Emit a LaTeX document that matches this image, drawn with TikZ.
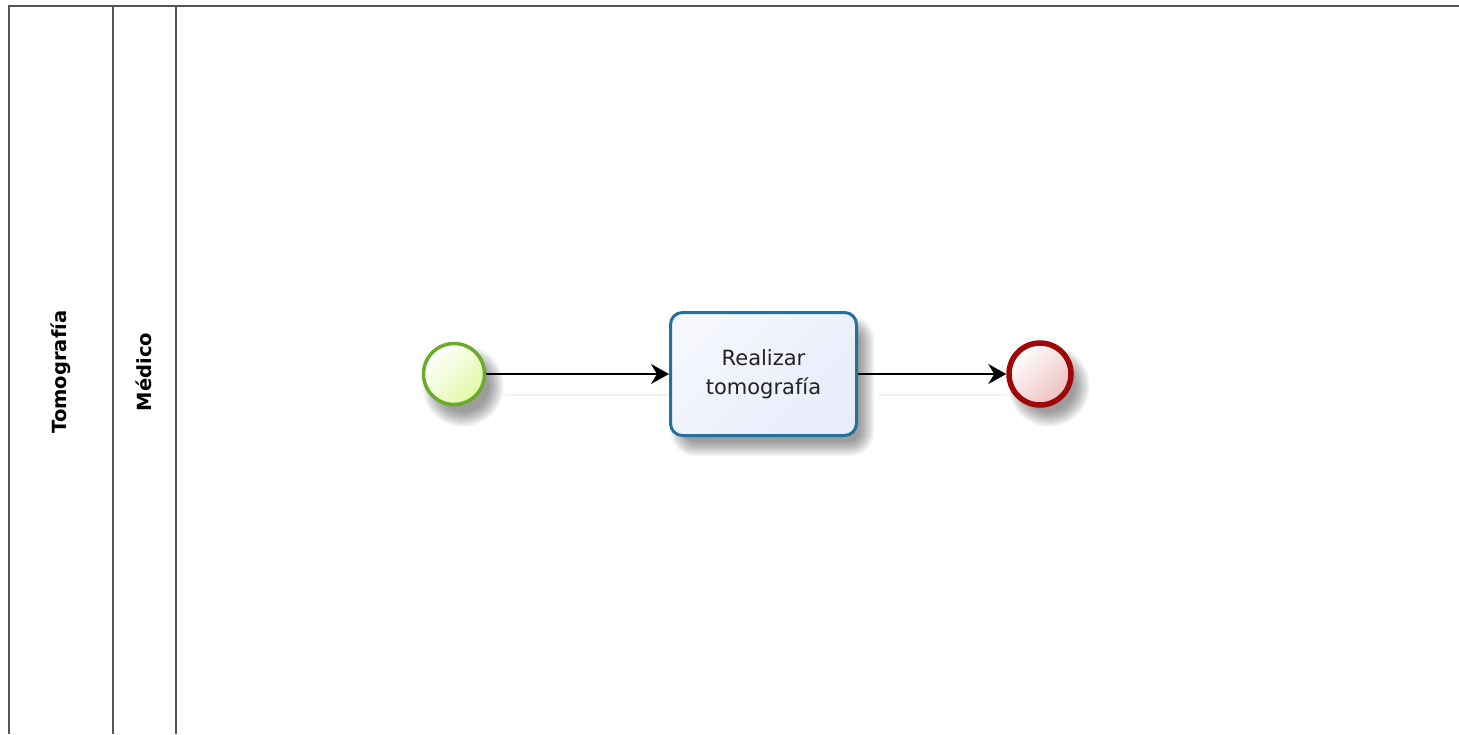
\documentclass[tikz,border=0pt]{standalone}
\usepackage{fontspec}
\setmainfont{DejaVu Sans}
\usetikzlibrary{arrows.meta,backgrounds}
\definecolor{laneline}{HTML}{555555}
\definecolor{startstroke}{HTML}{6AAC2A}
\definecolor{startfill}{HTML}{E2F8A8}
\definecolor{taskstroke}{HTML}{23719E}
\definecolor{taskfill}{HTML}{E8ECFB}
\definecolor{endstroke}{HTML}{A00808}
\definecolor{endfill}{HTML}{EEC0C0}
\definecolor{tasktext}{HTML}{222222}
\tikzset{
  laneln/.style={draw=laneline, line width=2pt},
  lanelabel/.style={rotate=90, font=\bfseries\fontsize{19.5}{22}\selectfont, inner sep=0pt},
  shadowlayer/.style={fill=black, fill opacity=0.028, draw=none},
  startev/.style={circle, minimum size=61pt, inner sep=0pt, line width=3.5pt, draw=startstroke, top color=white, bottom color=startfill, shading angle=45},
  endev/.style={circle, minimum size=62pt, inner sep=0pt, line width=5.5pt, draw=endstroke, top color=white, bottom color=endfill, shading angle=45},
  taskbox/.style={rectangle, rounded corners=12pt, minimum width=186pt, minimum height=123pt, line width=3pt, draw=taskstroke, top color=white!60!taskfill, bottom color=taskfill, shading angle=45, align=center, text=tasktext, font=\fontsize{21}{29}\selectfont},
  flow/.style={line width=2pt, -{Stealth[length=18pt, width=20pt, inset=6pt]}},
  flowshadow/.style={line width=2pt, draw=black!5}
}
\begin{document}
\begin{tikzpicture}[x=1pt, y=-1pt]
\useasboundingbox (0,0) rectangle (1459,734);
\draw[laneln] (9,734) -- (9,6) -- (1459,6);
\draw[laneln] (113,6) -- (113,734);
\draw[laneln] (176,6) -- (176,734);
\node[lanelabel] (pool) at (61,372) {Tomografía};
\node[lanelabel] (lane) at (144,372) {Médico};
\node[startev] (start) at (454,374) {};
\node[taskbox] (task) at (763.5,374) {Realizar\\tomografía};
\node[endev] (end) at (1040,374) {};
\begin{scope}[on background layer]
  \fill[white] (0,0) rectangle (1459,734);
  \foreach \i in {0,...,15} {
    \fill[shadowlayer] ([shift={(9,12)}]start.center) circle[radius=26+\i];
    \fill[shadowlayer] ([shift={(9,12)}]end.center) circle[radius=26+\i];
    \fill[shadowlayer, rounded corners=10+\i]
      ([shift={(9-87-\i,12-55.5-\i)}]task.center) rectangle ([shift={(9+87+\i,12+55.5+\i)}]task.center);
  }
  \draw[flowshadow] ([yshift=-21pt]start.east) ++(20,0) -- ([yshift=-21pt]task.west);
  \draw[flowshadow] ([yshift=-21pt]task.east) ++(20,0) -- ([yshift=-21pt]end.west);
\end{scope}
\draw[flow] (start) -- (task);
\draw[flow] (task) -- (end);
\end{tikzpicture}
\end{document}
